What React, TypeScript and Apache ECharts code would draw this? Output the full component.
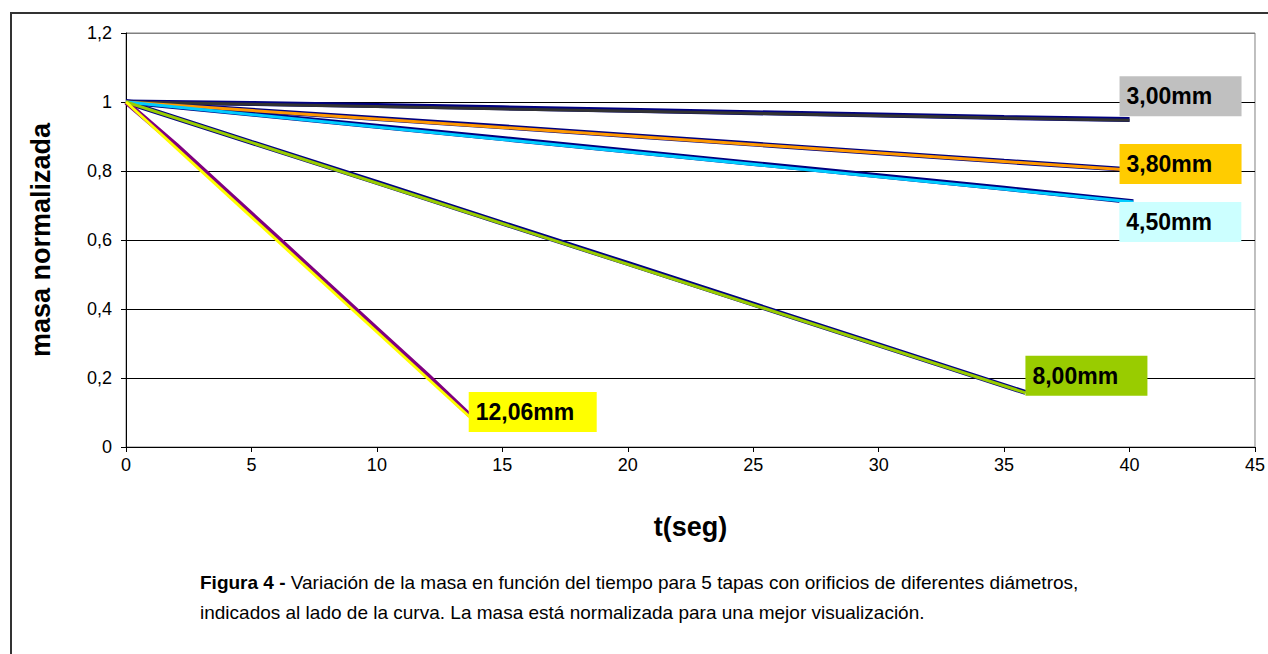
import React, { useEffect, useRef } from "react";
import * as echarts from "echarts";

// ---- data ----
const xTicks = [0, 5, 10, 15, 20, 25, 30, 35, 40, 45];
const yTicks = [0, 0.2, 0.4, 0.6, 0.8, 1, 1.2];

const names = ["3,00mm", "3,80mm", "4,50mm", "8,00mm", "12,06mm"];

// measured mass (noisy traces, sampled)
const t300 = [0, 5, 10, 15, 20, 25, 30, 35, 40];
const m300 = [1.0, 0.996, 0.99, 0.983, 0.976, 0.969, 0.962, 0.955, 0.949];
const t380 = [0, 5, 10, 15, 20, 25, 30, 35, 40];
const m380 = [1.0, 0.976, 0.952, 0.928, 0.903, 0.878, 0.853, 0.828, 0.804];
const t450 = [0, 5, 10, 15, 20, 25, 30, 35, 40.15];
const m450 = [1.0, 0.965, 0.93, 0.894, 0.858, 0.822, 0.786, 0.75, 0.711];
const t800 = [0, 5, 10, 15, 20, 25, 30, 35.85];
const m800 = [1.0, 0.883, 0.767, 0.649, 0.532, 0.414, 0.296, 0.158];
const t1206 = [0, 2, 4, 6, 8, 10, 12, 13.7];
const m1206 = [1.0, 0.875, 0.742, 0.609, 0.475, 0.342, 0.209, 0.092];

// fitted straight lines (start, end)
const fitT = [[0, 40], [0, 40], [0, 40.15], [0, 35.85], [0, 13.7]];
const fitM = [[1, 0.947], [1, 0.803], [1, 0.71], [1, 0.157], [1, 0.087]];

const zip = (a: number[], b: number[]) => a.map((v, i) => [v, b[i]]);

const FONT = "'Liberation Sans', Arial, sans-serif";

export default function App() {
  const ref = useRef<HTMLDivElement>(null);
  useEffect(() => {
    if (!ref.current) return;
    const chart = echarts.init(ref.current, null, { renderer: "svg" });

    const measured = [
      { d: zip(t300, m300), c: "#000080" },
      { d: zip(t380, m380), c: "#000080" },
      { d: zip(t450, m450), c: "#000080" },
      { d: zip(t800, m800), c: "#000080" },
      { d: zip(t1206, m1206), c: "#800080" },
    ];
    const fitColors = ["#333333", "#FF9900", "#00CCFF", "#99CC00", "#FFFF00"];
    const boxColors = ["#C0C0C0", "#FFCC00", "#CCFFFF", "#99CC00", "#FFFF00"];
    const offsets = [[-10, -24], [-10, -6], [-14, 20], [0, -17], [-1, -5]];
    const widths = [108, 108, 108, 108, 114];

    const series: any[] = [];
    measured.forEach((m, i) => {
      series.push({
        type: "line",
        name: names[i] + " datos",
        data: m.d,
        showSymbol: false,
        lineStyle: { color: m.c, width: 5 },
        z: 2,
      });
    });
    names.forEach((n, i) => {
      series.push({
        type: "line",
        name: n,
        data: zip(fitT[i], fitM[i]),
        showSymbol: false,
        lineStyle: { color: fitColors[i], width: 3 },
        z: 3,
        endLabel: {
          show: true,
          formatter: n,
          distance: 0,
          offset: offsets[i],
          backgroundColor: boxColors[i],
          padding: [7, 7],
          width: widths[i],
          lineHeight: 26,
          color: "#000",
          fontWeight: "bold",
          fontSize: 23,
          fontFamily: FONT,
        },
      });
    });

    chart.setOption({
      animation: false,
      backgroundColor: "#fff",
      textStyle: { fontFamily: FONT },
      grid: {
        left: 126,
        top: 33,
        right: 11,
        bottom: 207,
        show: true,
        borderColor: "#808080",
        borderWidth: 1,
        backgroundColor: "transparent",
      },
      xAxis: {
        type: "value",
        min: xTicks[0],
        max: xTicks[xTicks.length - 1],
        interval: 5,
        name: "t(seg)",
        nameLocation: "middle",
        nameGap: 66,
        nameTextStyle: { fontSize: 27, fontWeight: "bold", color: "#000", fontFamily: FONT },
        axisLine: { show: true, lineStyle: { color: "#000", width: 1 } },
        axisTick: { show: true, length: 5, lineStyle: { color: "#000" } },
        axisLabel: { fontSize: 18, color: "#000", margin: 9, fontFamily: FONT },
        splitLine: { show: false },
      },
      yAxis: {
        type: "value",
        min: yTicks[0],
        max: yTicks[yTicks.length - 1],
        interval: 0.2,
        name: "masa normalizada",
        nameLocation: "middle",
        nameGap: 72,
        nameTextStyle: { fontSize: 27, fontWeight: "bold", color: "#000", fontFamily: FONT },
        axisLine: { show: true, lineStyle: { color: "#000", width: 1 } },
        axisTick: { show: true, length: 5, lineStyle: { color: "#000" } },
        axisLabel: {
          fontSize: 18,
          color: "#000",
          margin: 14,
          fontFamily: FONT,
          formatter: (v: number) => String(Math.round(v * 10) / 10).replace(".", ","),
        },
        splitLine: {
          show: true,
          lineStyle: {
            color: ["#000", "#000", "#000", "#000", "#000", "#000", "#808080"],
            width: 1,
          },
        },
      },
      graphic: [
        {
          type: "rect",
          shape: { x: 11, y: 13, width: 1300, height: 700 },
          style: { fill: "none", stroke: "#333", lineWidth: 2 },
          silent: true,
          z: 0,
        },
        {
          type: "text",
          x: 200,
          y: 582,
          style: {
            text: "{b|Figura 4 -} Variación de la masa en función del tiempo para 5 tapas con orificios de diferentes diámetros,",
            rich: { b: { fontWeight: "bold", fontSize: 19, fontFamily: FONT, fill: "#000" } },
            fontSize: 19,
            fontFamily: FONT,
            fill: "#000",
            verticalAlign: "middle",
          },
        },
        {
          type: "text",
          x: 200,
          y: 612,
          style: {
            text: "indicados al lado de la curva. La masa está normalizada para una mejor visualización.",
            fontSize: 19,
            fontFamily: FONT,
            fill: "#000",
            verticalAlign: "middle",
          },
        },
      ],
      series,
    });
    return () => chart.dispose();
  }, []);
  return (
    <div
      ref={ref}
      style={{ position: "fixed", left: 0, top: 0, width: 1268, height: 654 }}
    />
  );
}
